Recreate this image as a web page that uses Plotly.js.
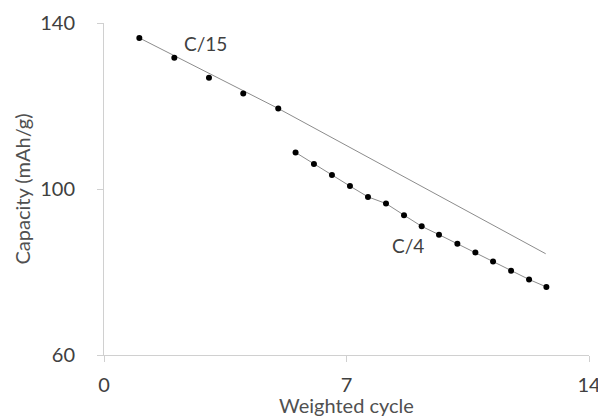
<!DOCTYPE html>
<html>
<head>
<meta charset="utf-8">
<script src="https://cdn.plot.ly/plotly-3.0.1.min.js"></script>
<style>html,body{margin:0;padding:0;background:#fff;}#chart{width:598px;height:417px;}</style>
</head>
<body>
<div id="chart"></div>
<script>
// C/15 measured points
const c15X = [1.02, 2.03, 3.03, 4.02, 5.03];
const c15Y = [136.4, 131.6, 126.8, 123.0, 119.4];
// C/15 trend line (extended)
const c15LineX = [1.02, 5.03, 12.75];
const c15LineY = [136.4, 119.4, 84.4];
// C/4 measured points
const c4X = [5.53, 6.06, 6.58, 7.10, 7.62, 8.14, 8.66, 9.17, 9.67, 10.2, 10.72, 11.23, 11.75, 12.27, 12.77];
const c4Y = [108.8, 106.0, 103.4, 100.7, 98.1, 96.5, 93.7, 91.0, 89.0, 86.8, 84.7, 82.5, 80.3, 78.2, 76.4];
// labels
const labelText = ["C/15", "C/4"];
const labelX = [2.94, 8.77];
const labelY = [135.0, 86.3];
const xTicks = [0, 7, 14];
const yTicks = [60, 100, 140];

const FONT = "Lato, 'Open Sans', sans-serif";

const traces = [
  {x: c15LineX, y: c15LineY, mode: 'lines', line: {color: '#8c8c8c', width: 1}, hoverinfo: 'skip'},
  {x: c15X, y: c15Y, mode: 'markers', marker: {color: '#000', size: 6}},
  {x: c4X, y: c4Y, mode: 'lines+markers', line: {color: '#8c8c8c', width: 1}, marker: {color: '#000', size: 6}}
];

const layout = {
  width: 598, height: 417,
  margin: {l: 104, r: 9, t: 23, b: 62},
  paper_bgcolor: '#fff', plot_bgcolor: '#fff',
  showlegend: false,
  font: {family: FONT, color: '#404040'},
  xaxis: {
    range: [0, 14], tickvals: xTicks, ticktext: xTicks.map(String),
    showgrid: false, zeroline: false, showline: true, linecolor: '#d0d0d0', linewidth: 1,
    ticks: 'outside', ticklen: 6, tickcolor: '#d0d0d0', ticklabelstandoff: 6,
    ticklabeloverflow: 'allow',
    tickfont: {family: FONT, size: 20, color: '#404040'},
    title: {text: 'Weighted cycle', font: {family: FONT, size: 20, color: '#505050'}, standoff: 4}
  },
  yaxis: {
    range: [60, 140], tickvals: yTicks, ticktext: yTicks.map(String),
    showgrid: false, zeroline: false, showline: true, linecolor: '#d0d0d0', linewidth: 1,
    ticks: 'outside', ticklen: 6, tickcolor: '#d0d0d0', ticklabelstandoff: 18,
    ticklabeloverflow: 'allow',
    tickfont: {family: FONT, size: 20, color: '#404040'},
    title: {text: 'Capacity (mAh/g)', font: {family: FONT, size: 20, color: '#505050'}, standoff: 4}
  },
  annotations: labelText.map((t, i) => ({
    x: labelX[i], y: labelY[i], xref: 'x', yref: 'y', text: t, showarrow: false,
    font: {family: FONT, size: 19, color: '#404040'}
  }))
};

Plotly.newPlot('chart', traces, layout, {staticPlot: true, displayModeBar: false});
</script>
</body>
</html>
